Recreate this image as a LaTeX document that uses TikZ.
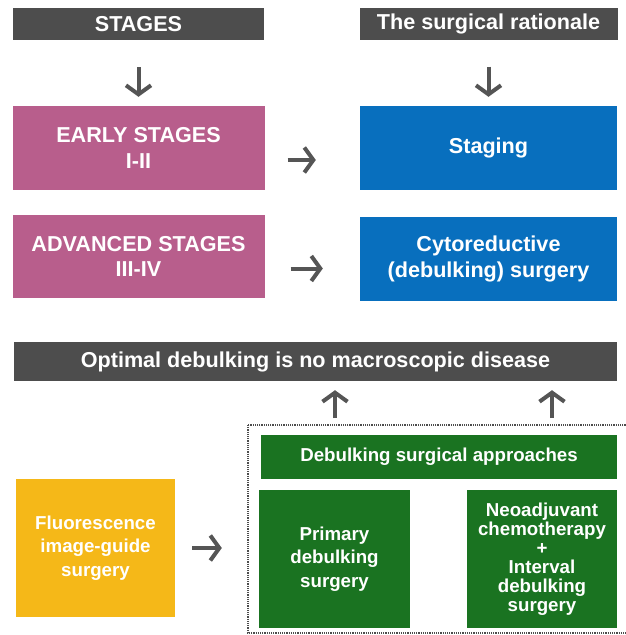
\documentclass[tikz,border=0pt]{standalone}
\usepackage{fontspec}
\setmainfont{Liberation Sans}
\usetikzlibrary{arrows.meta, positioning}
\definecolor{bargray}{RGB}{77,77,77}
\definecolor{stagepink}{RGB}{184,94,140}
\definecolor{rationblue}{RGB}{8,111,190}
\definecolor{approgreen}{RGB}{26,115,33}
\definecolor{fluoryellow}{RGB}{245,184,24}
\definecolor{arrowgray}{RGB}{85,85,85}
\tikzstyle{bar} = [rectangle,
			fill=bargray,
			text=white,
			inner sep=0pt,
			font=\bfseries\fontsize{21.6}{25}\selectfont]
\tikzstyle{box} = [rectangle,
			text=white,
			align=center,
			inner sep=0pt,
			font=\bfseries\fontsize{21.6}{25.5}\selectfont]
\tikzstyle{gbox} = [box,
			fill=approgreen,
			font=\bfseries\fontsize{18.7}{23.5}\selectfont]
\tikzstyle{arr} = [draw=arrowgray, line width=4pt, -{Straight Barb[length=9pt, width=25pt]}]
\tikzstyle{frame} = [draw=bargray, line width=1.2pt, densely dotted]

\begin{document}
\begin{tikzpicture}[x=1pt, y=-1pt]
	\useasboundingbox (0,0) rectangle (625,635);
	% top row
	\node [bar, minimum width=251pt, minimum height=32pt] (stages) at (138.5,24) {STAGES};
	\node [bar, minimum width=258pt, minimum height=32pt] (rationale) at (488.5,23.5) {The surgical rationale};
	\node [box, fill=stagepink, minimum width=252pt, minimum height=84pt] (early) at (138.5,148) {EARLY STAGES\\I-II};
	\node [box, fill=rationblue, minimum width=257pt, minimum height=84pt] (staging) at (488.5,148) {Staging};
	\node [box, fill=stagepink, minimum width=252pt, minimum height=83pt] (advanced) at (138.5,256.5) {ADVANCED STAGES\\III-IV};
	\node [box, fill=rationblue, minimum width=257pt, minimum height=84pt] (cyto) at (488.5,259) {Cytoreductive\\(debulking) surgery};
	\path [arr, shorten <=27pt, shorten >=9pt] (stages) -- (early);
	\path [arr, shorten <=27pt, shorten >=9pt] (rationale) -- (staging);
	\path [arr, shorten <=23pt, shorten >=44pt] ([yshift=-12pt]early.east) -- ([yshift=-12pt]early.east -| staging.west);
	\path [arr, shorten <=26pt, shorten >=37pt] ([yshift=-12pt]advanced.east) -- ([yshift=-12pt]advanced.east -| cyto.west);
	% bottom part
	\node [bar, minimum width=603pt, minimum height=39pt] (optimal) at (315.5,361.5) {Optimal debulking is no macroscopic disease};
	\draw [frame] (248,425) rectangle (627,633);
	\node [gbox, minimum width=356pt, minimum height=44pt] (approaches) at (439,457) {Debulking surgical approaches};
	\node [gbox, minimum width=151pt, minimum height=138pt] (primary) at (334.5,559) {Primary\\debulking\\surgery};
	\node [gbox, minimum width=150pt, minimum height=138pt, font=\bfseries\fontsize{18.7}{19}\selectfont] (neo) at (542,559) {Neoadjuvant\\chemotherapy\\+\\Interval\\debulking\\surgery};
	\node [gbox, fill=fluoryellow, minimum width=159pt, minimum height=138pt] (fluor) at (95.5,548) {Fluorescence\\image-guide\\surgery};
	\coordinate (up1) at (335,425);
	\coordinate (up2) at (552,425);
	\path [arr, shorten <=7pt, shorten >=9pt] (up1) -- (up1 |- optimal.south);
	\path [arr, shorten <=7pt, shorten >=9pt] (up2) -- (up2 |- optimal.south);
	\path [arr, shorten <=17pt, shorten >=37pt] (fluor.east) -- (fluor.east -| primary.west);
\end{tikzpicture}
\end{document}
